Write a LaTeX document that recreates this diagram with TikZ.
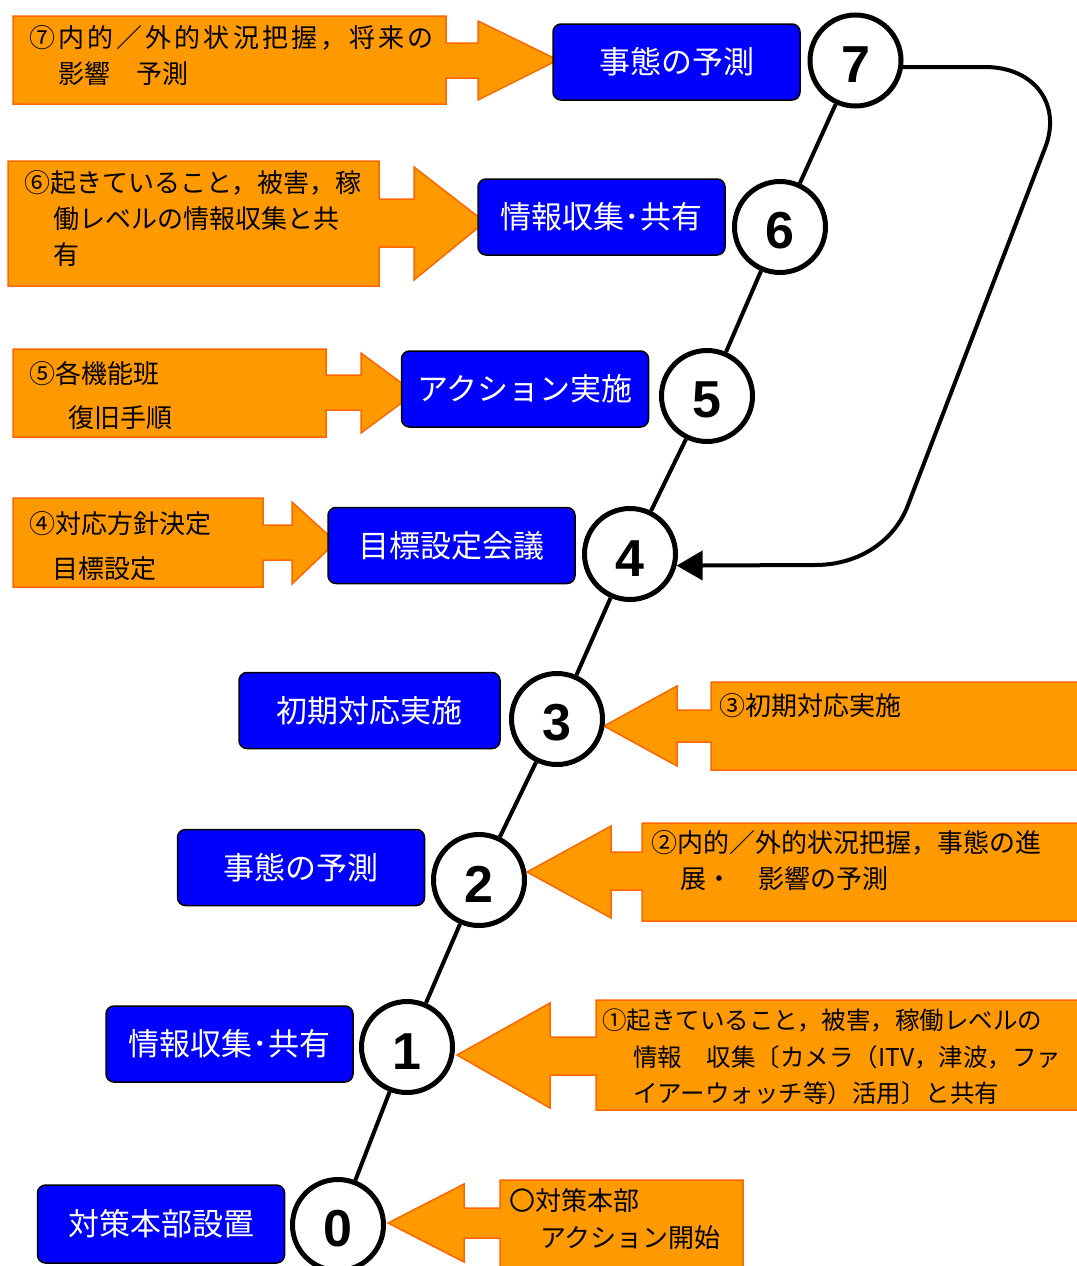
\documentclass[tikz,border=0pt]{standalone}
\usepackage{fontspec}
\setmainfont{Noto Sans CJK JP}
\newfontfamily\numfont{Liberation Sans}
\usetikzlibrary{arrows.meta}
\definecolor{taskblue}{HTML}{0000FF}
\definecolor{notefill}{HTML}{FF9900}
\definecolor{noteline}{HTML}{FF6600}

\begin{document}
\begin{tikzpicture}[x=1pt, y=-1pt,
    stage/.style={circle, draw, line width=5pt, fill=white, minimum size=91pt, inner sep=0pt, text height=44pt, font=\numfont\bfseries\fontsize{52}{52}\selectfont},
    task/.style={draw=black, line width=1.5pt, fill=taskblue, rounded corners=8pt, text=white, minimum width=247pt, minimum height=76pt, inner sep=0pt, font=\fontsize{31}{31}\selectfont},
    callout/.style={fill=notefill, draw=noteline, line width=1.5pt},
    note/.style={anchor=north west, inner sep=0pt, align=left, font=\fontsize{26}{36}\selectfont},
    link/.style={line width=4pt}]
  \useasboundingbox (0,0) rectangle (1076,1266);

  \draw[callout] (13,16) -- (446,16) -- (446,43) -- (478,43) -- (478,21) -- (558,60) -- (478,100) -- (478,78) -- (446,78) -- (446,104) -- (13,104) -- cycle;
  \draw[callout] (8,161) -- (379,161) -- (379,199) -- (414,199) -- (414,167) -- (485,222) -- (414,280) -- (414,247) -- (379,247) -- (379,286) -- (8,286) -- cycle;
  \draw[callout] (13,349) -- (326,349) -- (326,375) -- (361,375) -- (361,353) -- (415,393) -- (361,433) -- (361,410) -- (326,410) -- (326,437) -- (13,437) -- cycle;
  \draw[callout] (13,498) -- (263,498) -- (263,525) -- (292,525) -- (292,502) -- (336,542) -- (292,584) -- (292,560) -- (263,560) -- (263,587) -- (13,587) -- cycle;
  \draw[callout] (1080,682) -- (711,682) -- (711,710) -- (677,710) -- (677,686) -- (604,726) -- (677,766) -- (677,742) -- (711,742) -- (711,770) -- (1080,770) -- cycle;
  \draw[callout] (1080,823) -- (642,823) -- (642,852) -- (611,852) -- (611,826) -- (527,872) -- (611,918) -- (611,890) -- (642,890) -- (642,921) -- (1080,921) -- cycle;
  \draw[callout] (1080,1000) -- (596,1000) -- (596,1037) -- (550,1037) -- (550,1003) -- (457,1055) -- (550,1108) -- (550,1075) -- (596,1075) -- (596,1110) -- (1080,1110) -- cycle;
  \draw[callout] (743,1180) -- (500,1180) -- (500,1208) -- (464,1208) -- (464,1184) -- (388,1223) -- (464,1262) -- (464,1238) -- (500,1238) -- (500,1275) -- (743,1275) -- cycle;

  \node[note] (n7) at (29,25) {{\addfontfeatures{LetterSpace=12}⑦内的／外的状況把握，将来の}\\\hspace*{29pt}影響　予測};
  \node[note] (n6) at (24,170) {⑥起きていること，被害，稼\\\hspace*{29pt}働レベルの情報収集と共\\\hspace*{29pt}有};
  \node[note] (n5) at (29,361) {⑤各機能班\\[8pt]\hspace*{39pt}復旧手順};
  \node[note] (n4) at (29,511) {④対応方針決定\\[9pt]\hspace*{23pt}目標設定};
  \node[note] (n3) at (719,693) {③初期対応実施};
  \node[note] (n2) at (651,830) {②内的／外的状況把握，事態の進\\\hspace*{29pt}展・　影響の予測};
  \node[note, font=\fontsize{24.5}{36.5}\selectfont] (n1) at (602,1009) {①起きていること，被害，稼働レベルの\\\hspace*{31pt}情報　収集〔カメラ（ITV，津波，ファ\\\hspace*{31pt}イアーウォッチ等）活用〕と共有};
  \node[note] (n0) at (509,1188) {〇対策本部\\[1pt]\hspace*{31pt}アクション開始};

  \node[task] (b7) at (676.5,62) {事態の予測};
  \node[task] (b6) at (601.5,217) {情報収集･共有};
  \node[task] (b5) at (525,389) {アクション実施};
  \node[task] (b4) at (451.5,545.5) {目標設定会議};
  \node[task, minimum width=261pt] (b3) at (369.5,710.5) {初期対応実施};
  \node[task] (b2) at (301,867.5) {事態の予測};
  \node[task] (b1) at (229.5,1044) {情報収集･共有};
  \node[task, minimum height=78pt] (b0) at (161,1224) {対策本部設置};

  \node[stage] (c7) at (855.5,60.5) {7};
  \node[stage] (c6) at (780,227) {6};
  \node[stage] (c5) at (707,396) {5};
  \node[stage] (c4) at (630,554) {4};
  \node[stage] (c3) at (557,719) {3};
  \node[stage] (c2) at (479,880) {2};
  \node[stage] (c1) at (407,1047) {1};
  \node[stage] (c0) at (338,1225) {0};

  \foreach \a/\b in {c0/c1, c1/c2, c2/c3, c3/c4, c4/c5, c5/c6, c6/c7}
    \draw[link] (\a) -- (\b);
  \draw[link, -{Triangle[length=26pt, width=29pt]}] (c7.-8) -- (985,67) .. controls (1035,67) and (1062,105) .. (1045,148) -- (908,505) .. controls (895,540) and (860,565) .. (815,565) -- (c4.-14);
\end{tikzpicture}
\end{document}
